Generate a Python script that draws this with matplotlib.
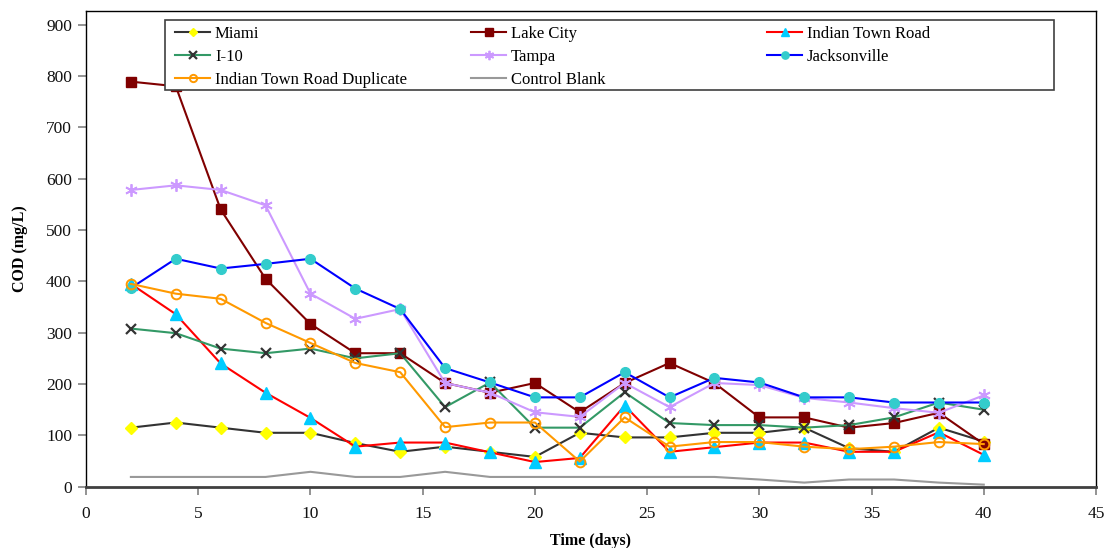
import matplotlib
matplotlib.use("Agg")
import matplotlib.pyplot as plt
from matplotlib.patches import Rectangle

plt.rcParams['font.family'] = ['Liberation Serif', 'DejaVu Serif']

days = [2, 4, 6, 8, 10, 12, 14, 16, 18, 20, 22, 24, 26, 28, 30, 32, 34, 36, 38, 40]

miami = [115, 125, 115, 105, 105, 85, 68, 78, 68, 58, 105, 96, 96, 105, 105, 115, 75, 68, 115, 88]
lake_city = [789, 780, 540, 405, 317, 260, 260, 202, 183, 202, 145, 202, 241, 202, 135, 135, 115, 124, 144, 83]
indian_town_road = [395, 336, 240, 183, 134, 78, 86, 86, 67, 48, 56, 158, 68, 77, 86, 86, 68, 68, 106, 62]
i10 = [308, 299, 269, 260, 269, 250, 260, 155, 203, 115, 115, 184, 124, 120, 120, 115, 120, 135, 164, 150]
tampa = [578, 587, 578, 548, 376, 327, 346, 202, 183, 145, 136, 202, 155, 202, 198, 173, 164, 153, 144, 178]
jacksonville = [387, 444, 425, 434, 444, 386, 346, 231, 203, 174, 174, 223, 174, 212, 203, 174, 174, 164, 164, 164]
indian_town_road_dup = [395, 376, 366, 319, 280, 241, 223, 116, 125, 125, 49, 135, 78, 87, 87, 78, 73, 78, 87, 83]
control_blank = [19, 19, 19, 19, 29, 19, 19, 29, 19, 19, 19, 19, 19, 19, 14, 8, 14, 14, 8, 4]

x_ticks = [0, 5, 10, 15, 20, 25, 30, 35, 40, 45]
y_ticks = [0, 100, 200, 300, 400, 500, 600, 700, 800, 900]

series = [
    ("Miami", miami, dict(color="#333333", marker="D", mfc="#FFFF00", mec="#FFFF00", ms=6)),
    ("Lake City", lake_city, dict(color="#800000", marker="s", mfc="#800000", mec="#800000", ms=7)),
    ("Indian Town Road", indian_town_road, dict(color="#FF0000", marker="^", mfc="#00CCFF", mec="#00CCFF", ms=8)),
    ("I-10", i10, dict(color="#339966", marker="x", mfc="#333333", mec="#333333", ms=7, mew=1.6)),
    ("Tampa", tampa, dict(color="#CC99FF", marker=(6, 2, 0), mfc="#CC99FF", mec="#CC99FF", ms=9, mew=1.3)),
    ("Jacksonville", jacksonville, dict(color="#0000FF", marker="o", mfc="#33CCCC", mec="#33CCCC", ms=7)),
    ("Indian Town Road Duplicate", indian_town_road_dup, dict(color="#FF9900", marker="o", mfc="none", mec="#FF9900", ms=7, mew=1.4)),
    ("Control Blank", control_blank, dict(color="#999999")),
]

W, H = 1106, 548
fig = plt.figure(figsize=(W / 100, H / 100), dpi=100)
ax = fig.add_axes([86 / W, 1 - 486.7 / H, (1096 - 86) / W, (486.7 - 11.3) / H])

handles = []
for name, vals, style in series:
    (ln,) = ax.plot(days, vals, lw=1.5, label=name, **style)
    handles.append(ln)

ax.set_xlim(0, 45)
ax.set_ylim(0, 926)
ax.set_xticks(x_ticks)
ax.set_yticks(y_ticks)
ax.tick_params(axis="both", direction="out", length=6, width=1.2, color="#808080",
               labelsize=12.5, labelcolor="#111111")
ax.tick_params(axis="x", pad=8)
ax.tick_params(axis="y", pad=4)

for side in ("top", "right", "left"):
    ax.spines[side].set_color("black")
    ax.spines[side].set_linewidth(1.0)
ax.spines["bottom"].set_color("#404040")
ax.spines["bottom"].set_linewidth(2.0)

ax.set_xlabel("Time (days)", fontsize=11.5, fontweight="bold", labelpad=8)
ax.set_ylabel("COD (mg/L)", fontsize=11.5, fontweight="bold", labelpad=13)

# legend: frame plus three columns laid out row by row
fig.patches.append(Rectangle((165 / W, 1 - 90 / H), (1054 - 165) / W, 70 / H,
                             transform=fig.transFigure, fill=True, fc="white",
                             ec="#404040", lw=1.2, zorder=5))
columns = [[0, 3, 6], [1, 4, 7], [2, 5]]
col_x = [175, 471, 767]
for cx, idx in zip(col_x, columns):
    fig.legend([handles[i] for i in idx], [series[i][0] for i in idx],
               loc="upper left", bbox_to_anchor=(cx / W, 1 - 26 / H),
               bbox_transform=fig.transFigure, frameon=False,
               fontsize=12, handlelength=2.1, handletextpad=0.3, markerscale=0.75,
               labelspacing=0.43, borderpad=0, borderaxespad=0)

fig.savefig("out.png", dpi=100)
